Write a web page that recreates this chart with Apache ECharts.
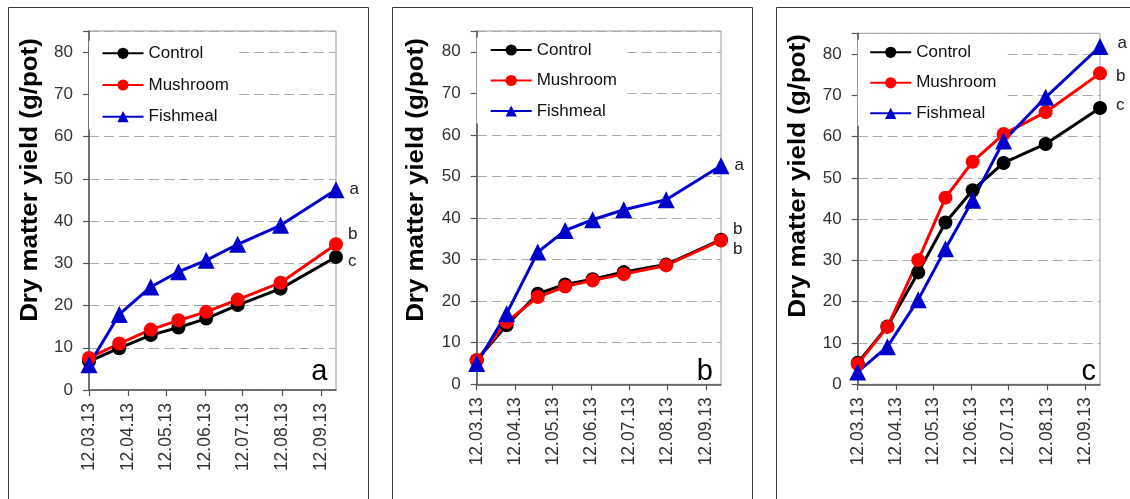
<!DOCTYPE html>
<html>
<head>
<meta charset="utf-8">
<script src="https://cdn.jsdelivr.net/npm/echarts@6/dist/echarts.min.js"></script>
<style>
  html, body { margin: 0; padding: 0; background: #fff; }
  #chart { width: 1130px; height: 499px; }
</style>
</head>
<body>
<div id="chart"></div>
<script>
// Harvest dates (same for all three trials) and monthly axis ticks
const harvestDates = ['2013-03-12', '2013-04-05', '2013-04-30', '2013-05-22',
                      '2013-06-13', '2013-07-08', '2013-08-11', '2013-09-24'];
const monthTicks = ['2013-03-12', '2013-04-12', '2013-05-12', '2013-06-12',
                    '2013-07-12', '2013-08-12', '2013-09-12'];
const treatments = ['Control', 'Mushroom', 'Fishmeal'];

// Dry matter yield (g/pot), panel a
const controlA  = [6.8, 9.9, 13.0, 14.8, 16.9, 20.1, 24.0, 31.5];
const mushroomA = [7.6, 11.0, 14.3, 16.5, 18.5, 21.4, 25.4, 34.5];
const fishmealA = [6.0, 17.9, 24.4, 28.0, 30.7, 34.5, 39.0, 47.4];
const lettersA  = ['c', 'b', 'a'];

// panel b
const controlB  = [5.8, 14.2, 21.8, 24.0, 25.3, 27.0, 28.8, 34.8];
const mushroomB = [5.8, 15.0, 21.0, 23.5, 25.0, 26.5, 28.6, 34.6];
const fishmealB = [5.0, 17.0, 31.8, 37.0, 39.6, 42.0, 44.4, 52.6];
const lettersB  = ['b', 'b', 'a'];

// panel c
const controlC  = [5.2, 14.0, 27.1, 39.2, 47.0, 53.6, 58.2, 66.9];
const mushroomC = [4.9, 13.9, 30.1, 45.2, 53.9, 60.6, 65.9, 75.3];
const fishmealC = [3.0, 9.1, 20.5, 32.8, 44.6, 58.9, 69.5, 81.8];
const lettersC  = ['c', 'b', 'a'];

const panelTags = ['a', 'b', 'c'];
const yTitle = 'Dry matter yield (g/pot)';

const FONT = '"Liberation Sans", Arial, Helvetica, sans-serif';
const colors = ['#000000', '#ff0000', '#0000cd'];
const symbols = ['circle', 'circle', 'triangle'];
const symbolSizes = [14, 14, 17];

const panels = [
  {
    grid: { left: 89, top: 31, width: 247, height: 359 },
    legend: { left: 89, top: 40.8, itemGap: 14.7, pad: 12.5 },
    frame: { x: 8.5, y: 7.5, w: 360, h: 500 },
    title: [30, 180],
    tag: [327.5, 386],
    values: [controlA, mushroomA, fishmealA],
    letters: lettersA,
    letterOffsets: [[0, 4], [0, -10], [0, 0]]
  },
  {
    grid: { left: 476.7, top: 31, width: 244.3, height: 353.3 },
    legend: { left: 476.7, top: 37.5, itemGap: 13.5, pad: 13 },
    frame: { x: 392.5, y: 7.5, w: 360, h: 500 },
    title: [416, 180],
    tag: [713, 386],
    values: [controlB, mushroomB, fishmealB],
    letters: lettersB,
    letterOffsets: [[0, 10], [0, -11], [0, 0]]
  },
  {
    grid: { left: 857.7, top: 33.3, width: 242.3, height: 351 },
    legend: { left: 857.7, top: 39.8, itemGap: 13.5, pad: 11.5 },
    frame: { x: 776.5, y: 7.5, w: 400, h: 500 },
    title: [798, 176],
    tag: [1096, 386],
    values: [controlC, mushroomC, fishmealC],
    letters: lettersC,
    letterOffsets: [[4, -3], [4, 3], [4, -3]]
  }
];

const tickValues = monthTicks.map(d => +echarts.time.parse(d));

const grids = [], xAxes = [], yAxes = [], legends = [], series = [], graphics = [];

panels.forEach((p, i) => {
  grids.push(Object.assign({
    show: true, borderColor: '#9a9a9a', borderWidth: 1, backgroundColor: 'transparent'
  }, p.grid));

  xAxes.push({
    type: 'time', gridIndex: i,
    min: harvestDates[0], max: harvestDates[harvestDates.length - 1],
    axisLine: { lineStyle: { color: '#555', width: 1.5 } },
    axisTick: { show: true, length: 6, lineStyle: { color: '#555', width: 1.2 }, customValues: tickValues },
    axisLabel: {
      customValues: tickValues, rotate: 90, margin: 13,
      formatter: '{dd}.{MM}.{yy}', color: '#333', fontSize: 17.5, fontFamily: FONT
    },
    splitLine: { show: false }
  });

  yAxes.push({
    type: 'value', gridIndex: i, min: 0, max: 85, interval: 10,
    axisLine: { show: true, lineStyle: { color: '#555', width: 1.5 } },
    axisTick: { show: true, length: 6, lineStyle: { color: '#555', width: 1.2 } },
    axisLabel: {
      margin: 16, color: '#333', fontSize: 17, fontFamily: FONT,
      formatter: v => (v % 10 === 0 ? String(v) : '')
    },
    splitLine: { show: true, lineStyle: { color: '#ababab', width: 1, type: [10, 5] } }
  });

  legends.push({
    orient: 'vertical', left: p.legend.left, top: p.legend.top,
    padding: [4, 10, 4, p.legend.pad], itemGap: p.legend.itemGap,
    itemWidth: 41, itemHeight: 14, backgroundColor: '#ffffff',
    selectedMode: false, data: treatments,
    textStyle: { fontSize: 17, color: '#111', fontFamily: FONT }
  });

  treatments.forEach((name, k) => {
    const vals = p.values[k];
    const last = vals.length - 1;
    series.push({
      name: name, type: 'line', xAxisIndex: i, yAxisIndex: i,
      symbol: symbols[k], symbolSize: symbolSizes[k],
      lineStyle: { color: colors[k], width: 3 },
      itemStyle: { color: colors[k] },
      emphasis: { disabled: true },
      animation: false,
      data: vals.map((v, j) => {
        const item = { value: [harvestDates[j], v] };
        if (j === last) {
          item.label = {
            show: true, position: 'right', distance: 5,
            offset: p.letterOffsets[k],
            formatter: p.letters[k],
            color: '#222', fontSize: 17, fontFamily: FONT
          };
        }
        return item;
      })
    });
  });

  // panel frame
  graphics.push({
    type: 'rect', z: -10, silent: true,
    shape: { x: p.frame.x, y: p.frame.y, width: p.frame.w, height: p.frame.h },
    style: { fill: 'none', stroke: '#3a3a3a', lineWidth: 1 }
  });
  // y-axis title
  graphics.push({
    type: 'text', x: p.title[0], y: p.title[1], rotation: Math.PI / 2, scaleX: 1.08,
    silent: true,
    style: {
      text: yTitle, fill: '#000', font: 'bold 24px ' + FONT,
      align: 'center', verticalAlign: 'middle'
    }
  });
  // panel tag
  graphics.push({
    type: 'text', x: p.tag[0], y: p.tag[1], silent: true, z: 10,
    style: {
      text: panelTags[i], fill: '#000', font: '29px ' + FONT,
      align: 'right', verticalAlign: 'bottom'
    }
  });
});

const chart = echarts.init(document.getElementById('chart'), null, { renderer: 'canvas' });
chart.setOption({
  backgroundColor: '#ffffff',
  animation: false,
  grid: grids,
  xAxis: xAxes,
  yAxis: yAxes,
  legend: legends,
  series: series,
  graphic: graphics
});
</script>
</body>
</html>
